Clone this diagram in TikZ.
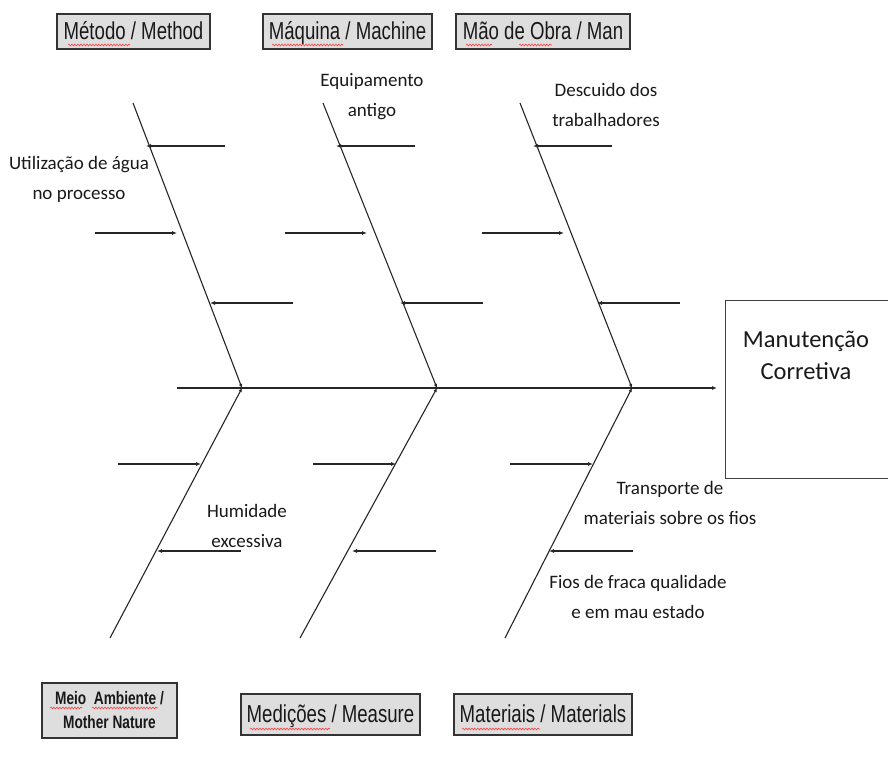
\documentclass[tikz,border=0pt]{standalone}
\usepackage{fontspec}
\setmainfont{Carlito}
\newfontfamily\narrowfont[FakeStretch=0.76]{Liberation Sans}
\usetikzlibrary{arrows.meta,decorations.pathmorphing}
\begin{document}
\begin{tikzpicture}[x=1pt,y=-1pt,
  bone/.style={line width=1.1pt,draw=black!85},
  cause/.style={line width=1.3pt,draw=black!85,-{Latex[length=5pt,width=4pt]}},
  catbox/.style={draw=black!80,line width=1.4pt,fill=black!13,inner sep=0pt,
     font=\narrowfont\fontsize{24.5}{26}\selectfont,text=black!90},
  onerow/.style={text height=19pt,text depth=3pt},
  lbl/.style={font=\fontsize{19}{30}\selectfont,align=center,text=black!90,inner sep=0pt},
  spell/.style={draw=red!75!white,line width=0.6pt,decorate,
     decoration={snake,amplitude=0.9pt,segment length=3pt}}]
\useasboundingbox (0,0) rectangle (888,762);
\fill[white] (0,0) rectangle (888,762);

% category boxes
\node[catbox,onerow,minimum width=153pt,minimum height=35pt] (met) at (133.5,31.5) {Método / Method};
\node[catbox,onerow,minimum width=169pt,minimum height=35pt] (maq) at (347.5,31.5) {Máquina / Machine};
\node[catbox,onerow,minimum width=174pt,minimum height=35pt] (mao) at (543,31.5) {Mão de Obra / Man};
\node[catbox,minimum width=135pt,minimum height=55pt,align=center,
      font=\narrowfont\bfseries\fontsize{18}{24}\selectfont] (mei) at (109.5,710.5) {Meio\ \ Ambiente /\\Mother Nature};
\node[catbox,onerow,minimum width=179pt,minimum height=41pt] (med) at (330.5,714.5) {Medições / Measure};
\node[catbox,onerow,minimum width=178pt,minimum height=41pt] (mat) at (543,714.5) {Materiais / Materials};

% spell-check underlines
\draw[spell] (68,45) -- (130,45);
\draw[spell] (272,45) -- (343,45);
\draw[spell] (466,45) -- (492,45);
\draw[spell] (519,45) -- (552,45);
\draw[spell] (50,708) -- (82,708);
\draw[spell] (92,708) -- (158,708);
\draw[spell] (250,729) -- (330,729);
\draw[spell] (462,729) -- (540,729);

% effect box
\node[draw=black!75,line width=1.3pt,minimum width=180pt,minimum height=178pt,inner sep=0pt,anchor=north west] (eff) at (725,300) {};
\node[font=\fontsize{24.5}{32}\selectfont,align=center,text=black!90] (efft) at (806,355) {Manutenção\\Corretiva};

% spine
\coordinate (s0) at (177,388);
\coordinate (j1) at (242,388);
\coordinate (j2) at (437,388);
\coordinate (j3) at (632,388);
\coordinate (s1) at (717,388);
\draw[line width=1.4pt,draw=black!85,-{Latex[length=5pt,width=4pt]}] (s0) -- (s1);

% bone ends
\coordinate (t1) at (133,103);
\coordinate (t2) at (323,103);
\coordinate (t3) at (520,103);
\coordinate (b1) at (110,638);
\coordinate (b2) at (300,638);
\coordinate (b3) at (505,638);
\draw[bone,-{Latex[length=4pt,width=3.5pt]}] (t1) -- (j1);
\draw[bone,-{Latex[length=4pt,width=3.5pt]}] (t2) -- (j2);
\draw[bone,-{Latex[length=4pt,width=3.5pt]}] (t3) -- (j3);
\draw[bone,-{Latex[length=4pt,width=3.5pt]}] (b1) -- (j1);
\draw[bone,-{Latex[length=4pt,width=3.5pt]}] (b2) -- (j2);
\draw[bone,-{Latex[length=4pt,width=3.5pt]}] (b3) -- (j3);

% cause arrows (top)
\foreach \dx/\n in {0/a,190/b,387/c}{
  \coordinate (\n1s) at (225+\dx,146); \coordinate (\n1e) at (146+\dx,146);
  \coordinate (\n2s) at (95+\dx,233);  \coordinate (\n2e) at (177+\dx,233);
  \coordinate (\n3s) at (293+\dx,303); \coordinate (\n3e) at (210+\dx,303);
  \draw[cause] (\n1s) -- (\n1e);
  \draw[cause] (\n2s) -- (\n2e);
  \draw[cause] (\n3s) -- (\n3e);
}
% cause arrows (bottom)
\foreach \dx/\n in {0/d,195/e,392/f}{
  \coordinate (\n1s) at (118+\dx,464); \coordinate (\n1e) at (201+\dx,464);
  \coordinate (\n2s) at (241+\dx,551); \coordinate (\n2e) at (157+\dx,551);
  \draw[cause] (\n1s) -- (\n1e);
  \draw[cause] (\n2s) -- (\n2e);
}

% labels
\node[lbl] (l1) at (79,179) {Utilização de água\\no processo};
\node[lbl] (l2) at (372,97) {Equipamento\\antigo};
\node[lbl] (l3) at (606,105) {Descuido dos\\trabalhadores};
\node[lbl] (l4) at (247,526) {Humidade\\excessiva};
\node[lbl] (l5) at (670,503) {Transporte de\\materiais sobre os fios};
\node[lbl] (l6) at (638,597) {Fios de fraca qualidade\\e em mau estado};
\end{tikzpicture}
\end{document}
